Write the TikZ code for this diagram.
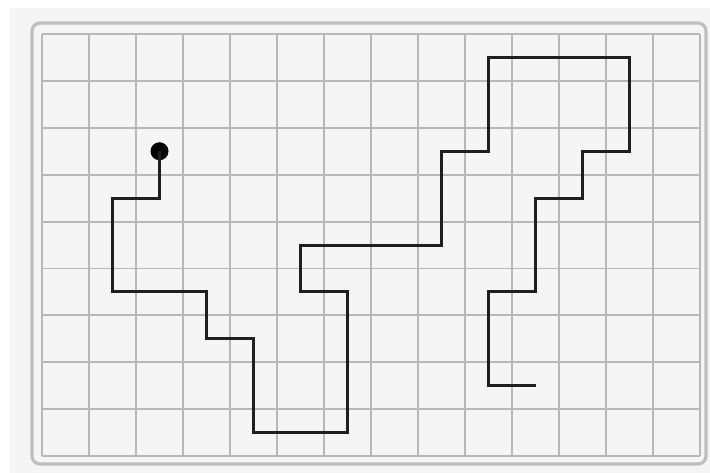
\documentclass[tikz,border=0pt]{standalone}
\begin{document}
\begin{tikzpicture}[x=0.75pt,y=-0.75pt,
  gridline/.style={draw=black!28,line width=1.4pt},
  frameline/.style={draw=black!25,line width=2.4pt,rounded corners=6pt},
  route/.style={draw=black!88,line width=2.3pt,line join=miter},
  dotmark/.style={circle,fill=black,inner sep=0pt,minimum size=13.5pt}]
\useasboundingbox (0,0) rectangle (710,473);
\fill[white] (0,0) rectangle (710,473);
\fill[black!4] (10,8) rectangle (710,473);
\fill[black!4,frameline] (32,23) rectangle (706,464);
% grid
\foreach \i in {0,...,14} \draw[gridline] ({42+47*\i},34) -- ({42+47*\i},456);
\foreach \j in {0,...,9} \draw[gridline] (42,{34+46.9*\j}) -- (700,{34+46.9*\j});
% path in grid units
\begin{scope}[shift={(42,34)},x=35.25pt,y=-35.175pt]
\node[dotmark] (start) at (2.5,2.5) {};
\coordinate (finish) at (10.5,7.5);
\draw[route] (start.center) -- (2.5,3.5) -- (1.5,3.5) -- (1.5,5.5) -- (3.5,5.5) -- (3.5,6.5)
  -- (4.5,6.5) -- (4.5,8.5) -- (6.5,8.5) -- (6.5,5.5) -- (5.5,5.5) -- (5.5,4.5)
  -- (8.5,4.5) -- (8.5,2.5) -- (9.5,2.5) -- (9.5,0.5) -- (12.5,0.5) -- (12.5,2.5)
  -- (11.5,2.5) -- (11.5,3.5) -- (10.5,3.5) -- (10.5,5.5) -- (9.5,5.5) -- (9.5,7.5)
  -- (finish);
\end{scope}
\end{tikzpicture}
\end{document}
